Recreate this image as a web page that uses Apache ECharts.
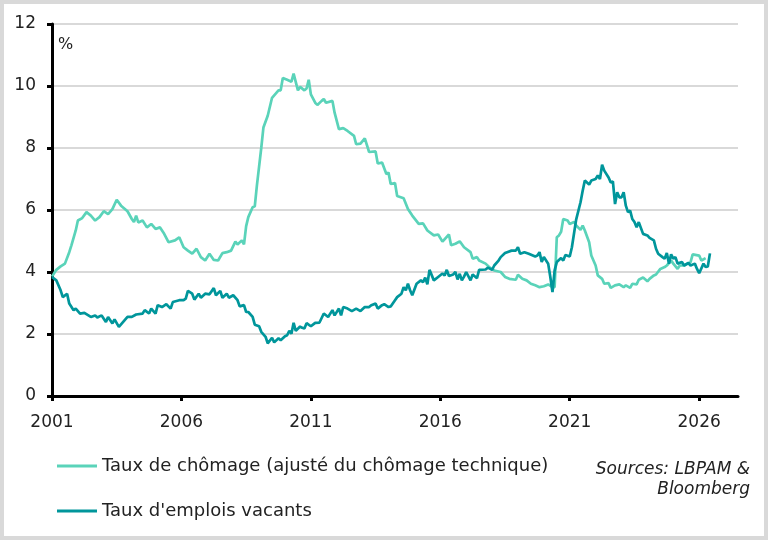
<!DOCTYPE html>
<html>
<head>
<meta charset="utf-8">
<script src="https://cdn.jsdelivr.net/npm/echarts@6/dist/echarts.min.js"></script>
<style>
  html, body { margin: 0; padding: 0; background: #fff; }
  #chart { width: 768px; height: 540px; }
</style>
</head>
<body>
<div id="chart"></div>
<script>
// mois depuis janvier 2001, valeur en %
var chomage = [
  [0,3.85],[2,4.07],[4,4.18],[6,4.27],[8,4.64],[9,4.86],[11,5.34],[12,5.66],[14,5.74],[16,5.93],
  [18,5.82],[20,5.66],[22,5.77],[24,5.96],[26,5.87],[28,6.03],[30,6.33],[32,6.14],[35,5.96],[37,5.71],
  [38,5.61],[39,5.82],[40,5.6],[42,5.66],[44,5.44],[46,5.55],[48,5.39],[50,5.44],[52,5.23],[54,4.96],
  [57,5.02],[59,5.12],[61,4.8],[63,4.69],[65,4.59],[67,4.75],[69,4.48],[71,4.37],[73,4.59],[75,4.39],
  [77,4.37],[79,4.61],[81,4.64],[83,4.69],[85,4.98],[86,4.89],[88,5.02],[89,4.89],[90,5.48],[91,5.77],
  [93,6.09],[94,6.12],[95,6.8],[96,7.4],[97,8.0],[98,8.66],[100,9.04],[102,9.62],[103,9.7],[105,9.86],
  [106,9.86],[107,10.26],[109,10.2],[111,10.14],[112,10.4],[114,9.86],[115,9.97],[117,9.86],[118,9.92],[119,10.2],
  [120,9.73],[122,9.46],[123,9.39],[125,9.52],[126,9.58],[127,9.46],[130,9.52],[131,9.14],[133,8.61],[135,8.64],
  [137,8.55],[140,8.39],[141,8.12],[143,8.14],[145,8.31],[147,7.87],[150,7.89],[151,7.5],[153,7.53],[155,7.16],
  [156,7.21],[157,6.84],[159,6.87],[160,6.45],[163,6.38],[165,6.03],[167,5.82],[170,5.55],[172,5.57],[174,5.34],
  [177,5.18],[179,5.21],[181,4.98],[184,5.21],[185,4.86],[187,4.91],[189,4.99],[191,4.8],[194,4.64],[195,4.43],
  [197,4.48],[198,4.37],[201,4.27],[203,4.14],[205,4.05],[208,4.0],[210,3.84],[212,3.78],[215,3.75],[216,3.91],
  [218,3.78],[220,3.73],[222,3.62],[224,3.57],[226,3.51],[228,3.54],[230,3.6],[232,3.51],[233,3.51],[234,5.12],
  [235,5.18],[236,5.3],[237,5.71],[239,5.66],[240,5.55],[242,5.61],[243,5.5],[245,5.36],[246,5.5],[247,5.34],
  [249,4.96],[250,4.53],[252,4.21],[253,3.89],[255,3.78],[256,3.62],[258,3.64],[259,3.49],[261,3.57],[263,3.6],
  [265,3.51],[266,3.57],[268,3.49],[269,3.62],[271,3.6],[272,3.75],[274,3.82],[276,3.7],[277,3.78],[279,3.89],
  [280,3.92],[282,4.1],[284,4.16],[285,4.21],[287,4.37],[288,4.27],[290,4.1],[291,4.21],[293,4.21],[296,4.32],
  [297,4.57],[300,4.53],[301,4.37],[303,4.45]
];

var vacants = [
  [0,3.84],[2,3.73],[4,3.41],[5,3.19],[7,3.3],[8,2.98],[10,2.77],[11,2.82],[13,2.66],[15,2.68],
  [18,2.55],[20,2.6],[21,2.53],[23,2.6],[25,2.39],[26,2.55],[28,2.34],[29,2.47],[31,2.23],[33,2.39],
  [35,2.55],[37,2.55],[39,2.63],[42,2.66],[43,2.77],[45,2.66],[46,2.82],[48,2.66],[49,2.93],[51,2.87],
  [53,2.96],[55,2.82],[56,3.03],[59,3.09],[61,3.09],[62,3.14],[63,3.39],[65,3.3],[66,3.11],[68,3.3],
  [69,3.17],[71,3.3],[73,3.28],[75,3.48],[76,3.25],[78,3.39],[79,3.17],[81,3.3],[82,3.17],[84,3.25],
  [86,3.09],[87,2.89],[89,2.93],[90,2.71],[91,2.71],[93,2.55],[94,2.3],[96,2.25],[97,2.07],[99,1.91],
  [100,1.7],[102,1.88],[103,1.73],[105,1.86],[106,1.8],[108,1.93],[109,1.96],[110,2.1],[111,2.01],[112,2.36],
  [113,2.1],[115,2.24],[116,2.2],[117,2.18],[118,2.35],[120,2.25],[122,2.36],[124,2.37],[126,2.66],[128,2.55],
  [130,2.77],[131,2.6],[133,2.82],[134,2.6],[135,2.87],[137,2.82],[139,2.74],[141,2.82],[143,2.74],[145,2.87],
  [147,2.87],[148,2.93],[150,2.98],[151,2.82],[153,2.93],[154,2.96],[156,2.87],[157,2.89],[159,3.09],[160,3.19],
  [162,3.3],[163,3.51],[164,3.41],[165,3.62],[166,3.41],[167,3.25],[169,3.62],[171,3.73],[172,3.67],[173,3.82],
  [174,3.6],[175,4.07],[177,3.73],[179,3.84],[181,3.95],[182,3.89],[183,4.07],[184,3.87],[186,3.92],[187,4.0],
  [188,3.76],[189,3.94],[190,3.73],[191,3.85],[192,4.0],[194,3.73],[195,3.92],[197,3.8],[198,4.07],[201,4.08],
  [202,4.14],[204,4.07],[205,4.21],[207,4.37],[208,4.48],[210,4.61],[211,4.64],[213,4.69],[215,4.69],[216,4.8],
  [217,4.59],[219,4.64],[221,4.59],[224,4.5],[225,4.53],[226,4.64],[227,4.32],[228,4.48],[230,4.27],[231,3.84],
  [232,3.35],[233,4.05],[234,4.32],[236,4.45],[237,4.37],[238,4.55],[240,4.5],[241,4.8],[243,5.7],[245,6.25],
  [246,6.62],[247,6.95],[249,6.82],[250,6.95],[252,7.0],[253,7.11],[254,7.0],[255,7.46],[256,7.27],[258,7.05],
  [259,6.89],[260,6.92],[261,6.19],[262,6.57],[263,6.41],[264,6.41],[265,6.57],[266,6.14],[267,5.93],[268,5.98],
  [269,5.71],[270,5.61],[271,5.44],[272,5.61],[274,5.23],[276,5.18],[277,5.1],[279,5.02],[280,4.75],[281,4.59],
  [283,4.48],[284,4.43],[285,4.61],[286,4.27],[287,4.57],[288,4.43],[289,4.48],[290,4.27],[292,4.32],[293,4.21],
  [295,4.29],[296,4.21],[298,4.27],[299,4.1],[300,3.96],[302,4.27],[303,4.16],[304,4.18],[305,4.6]
];

var yearTicks = [2001, 2006, 2011, 2016, 2021, 2026];
var seriesNames = ['Taux de chômage (ajusté du chômage technique)', "Taux d'emplois vacants"];
var colors = ['#5ad3b9', '#00969b'];

var FONT = 'DejaVu Sans';

function toYears(arr) {
  return arr.map(function (p) { return [2001 + p[0] / 12, p[1]]; });
}

var chart = echarts.init(document.getElementById('chart'));

var option = {
  backgroundColor: '#fff',
  animation: false,
  textStyle: { fontFamily: FONT },
  grid: { left: 52, right: 30, top: 24, bottom: 144 },
  xAxis: {
    type: 'value',
    min: 2001,
    max: 2027.5,
    axisLine: { lineStyle: { color: '#000', width: 3 } },
    axisTick: { customValues: yearTicks, length: 5, lineStyle: { color: '#000', width: 3 } },
    axisLabel: {
      customValues: yearTicks,
      margin: 18,
      color: '#222',
      fontSize: 17,
      fontFamily: FONT,
      formatter: function (v) { return String(v); }
    },
    splitLine: { show: false }
  },
  yAxis: {
    type: 'value',
    min: 0,
    max: 12,
    interval: 2,
    axisLine: { show: true, lineStyle: { color: '#000', width: 3 } },
    axisTick: { show: true, length: 5, lineStyle: { color: '#000', width: 3 } },
    axisLabel: { margin: 16, color: '#222', fontSize: 17, fontFamily: FONT },
    splitLine: { lineStyle: { color: '#d9d9d9', width: 2 } }
  },
  legend: {
    orient: 'vertical',
    left: 57,
    top: 457,
    padding: 0,
    itemGap: 27,
    itemWidth: 40,
    itemHeight: 3,
    icon: 'rect',
    textStyle: { color: '#222', fontSize: 18, fontFamily: FONT, padding: [0, 0, 0, 0] },
    data: seriesNames
  },
  graphic: [
    {
      type: 'rect',
      silent: true,
      shape: { x: 0, y: 0, width: 768, height: 540 },
      style: { fill: 'none', stroke: '#d9d9d9', lineWidth: 8 }
    },
    {
      type: 'text',
      left: 58,
      top: 37,
      style: { text: '%', fill: '#222', font: '16px "' + FONT + '"' }
    },
    {
      type: 'text',
      x: 750,
      y: 460,
      style: {
        text: 'Sources: LBPAM &\nBloomberg',
        fill: '#222',
        align: 'right',
        verticalAlign: 'top',
        lineHeight: 20,
        font: 'italic 17px "' + FONT + '"'
      }
    }
  ],
  series: [
    {
      name: seriesNames[0],
      type: 'line',
      data: toYears(chomage),
      showSymbol: false,
      symbol: 'none',
      lineStyle: { color: colors[0], width: 2.7 },
      itemStyle: { color: colors[0] }
    },
    {
      name: seriesNames[1],
      type: 'line',
      data: toYears(vacants),
      showSymbol: false,
      symbol: 'none',
      lineStyle: { color: colors[1], width: 2.7 },
      itemStyle: { color: colors[1] }
    }
  ]
};

chart.setOption(option);
</script>
</body>
</html>
